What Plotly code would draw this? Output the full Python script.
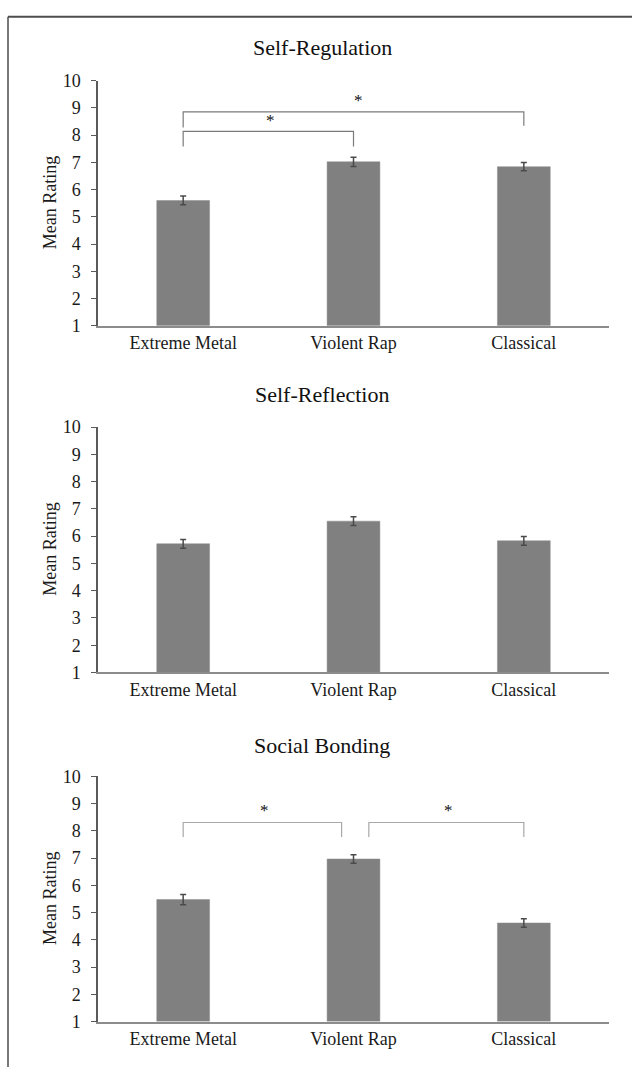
import plotly.graph_objects as go

W, H = 632, 1077

categories = ["Extreme Metal", "Violent Rap", "Classical"]
panel_titles = ["Self-Regulation", "Self-Reflection", "Social Bonding"]

reg_means = [5.60, 7.02, 6.84]
reg_err = [0.16, 0.17, 0.15]
ref_means = [5.72, 6.55, 5.83]
ref_err = [0.16, 0.16, 0.16]
bond_means = [5.48, 6.97, 4.62]
bond_err = [0.19, 0.16, 0.16]

y_ticks = [1, 2, 3, 4, 5, 6, 7, 8, 9, 10]

# significance brackets: panel, x ends, heights and star positions
sig_panel = [0, 0, 2, 2]
sig_x_left = [0.0, 0.0, 0.0, 1.09]
sig_x_right = [1.0, 2.0, 0.93, 2.0]
sig_y_top = [8.14, 8.85, 8.31, 8.31]
sig_y_left_end = [7.58, 8.28, 7.78, 7.78]
sig_y_right_end = [7.58, 8.34, 7.78, 7.78]
sig_star_x = [0.51, 1.03, 0.48, 1.56]
sig_star_y = [8.52, 9.28, 8.75, 8.75]
sig_color = ["#7a7a7a", "#7a7a7a", "#a8a8a8", "#a8a8a8"]

means = [reg_means, ref_means, bond_means]
errs = [reg_err, ref_err, bond_err]

# pixel layout (top of y=10, bottom y=1) for each panel
panel_top_px = [72, 425, 781]
panel_bot_px = [321.7, 675, 1030.7]
x_left_px, x_right_px = 98, 609
title_y_px = [38, 392, 749]
title_x_px = 322
ylabel_x_px = 50

FONT = "Liberation Serif, Times New Roman, serif"

fig = go.Figure()
layout_axes = {}
for i in range(3):
    xa = "x" if i == 0 else f"x{i+1}"
    ya = "y" if i == 0 else f"y{i+1}"
    fig.add_trace(go.Bar(
        x=[0, 1, 2], y=[m - 1 for m in means[i]], base=1,
        width=0.31,
        marker=dict(color="#808080", line=dict(color="#8a8a8a", width=0.5)),
        error_y=dict(type="data", array=errs[i], color="#4a4a4a", thickness=1.5, width=3),
        xaxis=xa, yaxis=ya, showlegend=False, hoverinfo="skip",
    ))
    xkey = "xaxis" if i == 0 else f"xaxis{i+1}"
    ykey = "yaxis" if i == 0 else f"yaxis{i+1}"
    layout_axes[xkey] = dict(
        domain=[x_left_px / W, x_right_px / W],
        range=[-0.5, 2.5], tickvals=[0, 1, 2], ticktext=categories,
        showline=True, linecolor="#8c8c8c", linewidth=1.5,
        ticks="", showgrid=False, zeroline=False,
        tickfont=dict(family=FONT, size=18, color="#1a1a1a"),
        anchor=ya, fixedrange=True,
    )
    layout_axes[ykey] = dict(
        domain=[1 - panel_bot_px[i] / H, 1 - panel_top_px[i] / H],
        range=[1, 10], tickvals=y_ticks,
        showline=True, linecolor="#5a5a5a", linewidth=1.5,
        ticks="outside", ticklen=5, tickcolor="#5a5a5a", tickwidth=1.2,
        showgrid=False, zeroline=False,
        tickfont=dict(family=FONT, size=18, color="#1a1a1a"),
        ticklabelstandoff=7,
        anchor=xa, fixedrange=True,
    )

# significance brackets
for k in range(len(sig_panel)):
    i = sig_panel[k]
    xa = "x" if i == 0 else f"x{i+1}"
    ya = "y" if i == 0 else f"y{i+1}"
    fig.add_trace(go.Scatter(
        x=[sig_x_left[k], sig_x_left[k], sig_x_right[k], sig_x_right[k]],
        y=[sig_y_left_end[k], sig_y_top[k], sig_y_top[k], sig_y_right_end[k]],
        mode="lines", line=dict(color=sig_color[k], width=1.2),
        xaxis=xa, yaxis=ya, showlegend=False, hoverinfo="skip",
    ))
    fig.add_annotation(
        x=sig_star_x[k], y=sig_star_y[k], xref=xa, yref=ya,
        text="*", showarrow=False,
        font=dict(family=FONT, size=17, color="#111111"),
        xanchor="center", yanchor="middle",
    )

for i in range(3):
    fig.add_annotation(
        x=title_x_px / W, y=1 - title_y_px[i] / H, xref="paper", yref="paper",
        text=panel_titles[i], showarrow=False,
        font=dict(family=FONT, size=22, color="#111111"),
        xanchor="center", yanchor="middle",
    )
    fig.add_annotation(
        x=ylabel_x_px / W, y=1 - (panel_top_px[i] + panel_bot_px[i]) / 2 / H,
        xref="paper", yref="paper",
        text="Mean Rating", showarrow=False, textangle=-90,
        font=dict(family=FONT, size=18, color="#1a1a1a"),
        xanchor="center", yanchor="middle",
    )

# outer frame (top and left edges)
fig.add_shape(type="line", xref="paper", yref="paper",
              x0=8 / W, x1=1, y0=1 - 7 / H, y1=1 - 7 / H,
              line=dict(color="#4d4d4d", width=2))
fig.add_shape(type="line", xref="paper", yref="paper",
              x0=8 / W, x1=8 / W, y0=1 - 7 / H, y1=0,
              line=dict(color="#4d4d4d", width=1.5))

fig.update_layout(
    width=W, height=H, autosize=False,
    margin=dict(l=0, r=0, t=0, b=0),
    paper_bgcolor="white", plot_bgcolor="white",
    **layout_axes,
)

fig.write_html(
    "out.html",
    config={"displayModeBar": False},
    post_script="document.body.style.margin='0';document.body.style.overflow='hidden';",
)
